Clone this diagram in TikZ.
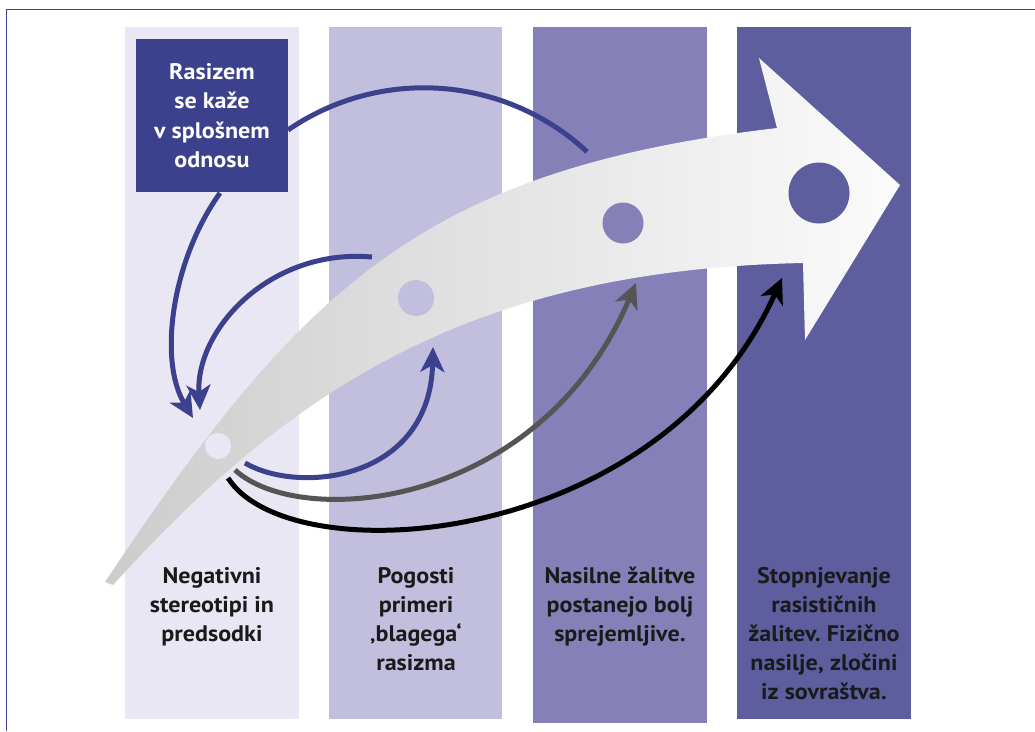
\documentclass[tikz,border=0pt]{standalone}
\usepackage{fontspec}
\setmainfont{PT Sans}[FakeStretch=1.07]
\usepackage{tikz}
\usetikzlibrary{arrows.meta}
\definecolor{frameblue}{HTML}{3B418C}
\definecolor{colA}{HTML}{E9E7F4}
\definecolor{colB}{HTML}{C2BEDD}
\definecolor{colC}{HTML}{8581B8}
\definecolor{colD}{HTML}{5E5E9F}
\definecolor{darkgrey}{HTML}{555555}
\definecolor{textblack}{HTML}{1A1A1A}
\frenchspacing

\begin{document}
\begin{tikzpicture}[x=1pt,y=-1pt,
  lbl/.style={font=\bfseries\fontsize{22.5}{29}\selectfont, align=center, text=textblack, anchor=north, inner sep=0pt},
  dot/.style={circle, inner sep=0pt},
  link/.style={line width=5pt, -{Stealth[length=25pt,width=24pt,inset=7pt]}}]
\useasboundingbox (0,0) rectangle (1035,731);
\draw[frameblue, line width=1.5pt] (6.5,731) -- (6.5,9.5) -- (1035,9.5);
\fill[colA] (125,27) rectangle (299,719);
\fill[colB] (329,27) rectangle (502,719);
\fill[colC] (533,27) rectangle (707,723);
\fill[colD] (737,27) rectangle (911,719);
\shade[left color=black!20, right color=black!1.5]
  (105,582) .. controls (300,290) and (420,170) .. (777,128)
  -- (759,58) -- (900,185) -- (805,340) -- (803,263)
  .. controls (467,270) and (288,392) .. (113,585)
  -- cycle;
\node[dot, fill=colA, minimum size=26pt] (s1) at (218,446) {};
\node[dot, fill=colB, minimum size=36pt] (s2) at (416,298) {};
\node[dot, fill=colC, minimum size=41pt] (s3) at (623,223) {};
\node[dot, fill=colD, minimum size=61pt] (s4) at (819,193) {};
\node[fill=frameblue, minimum width=152pt, minimum height=153pt, inner sep=0pt, text=white, font=\bfseries\fontsize{22.5}{29.5}\selectfont, align=center] (box) at (212,115.5) {Rasizem\\se kaže\\v splošnem\\odnosu};
\coordinate (a1s) at (288,130);
\coordinate (a2s) at (220,193);
\coordinate (a2e) at (193,418);
\coordinate (a3s) at (372,257);
\coordinate (a3e) at (200,410);
\coordinate (a4s) at (245,463);
\coordinate (a4e) at (433,347);
\coordinate (a5s) at (235,470);
\coordinate (a5e) at (636,283);
\coordinate (a6s) at (228,478);
\coordinate (a6e) at (782,278);
\draw[frameblue, line width=5pt] (a1s) arc[start angle=124.5, end angle=47.2, radius=240pt];
\draw[link, frameblue] (a2s) .. controls (172,260) and (158,360) .. (a2e);
\draw[link, frameblue] (a3s) .. controls (270,248) and (195,330) .. (a3e);
\draw[link, frameblue] (a4s) .. controls (300,495) and (430,480) .. (a4e);
\draw[link, darkgrey] (a5s) .. controls (300,530) and (540,510) .. (a5e);
\draw[link, black] (a6s) .. controls (290,575) and (660,550) .. (a6e);
\node[lbl] (t1) at (212,567) {Negativni\\stereotipi in\\predsodki};
\node[lbl] (t2) at (416,567) {Pogosti\\primeri\\‚blagega‘\\rasizma};
\node[lbl] (t3) at (620,567) {Nasilne žalitve\\postanejo bolj\\sprejemljive.};
\node[lbl] (t4) at (824,567) {Stopnjevanje\\rasističnih\\žalitev. Fizično\\nasilje, zločini\\iz sovraštva.};
\end{tikzpicture}
\end{document}
